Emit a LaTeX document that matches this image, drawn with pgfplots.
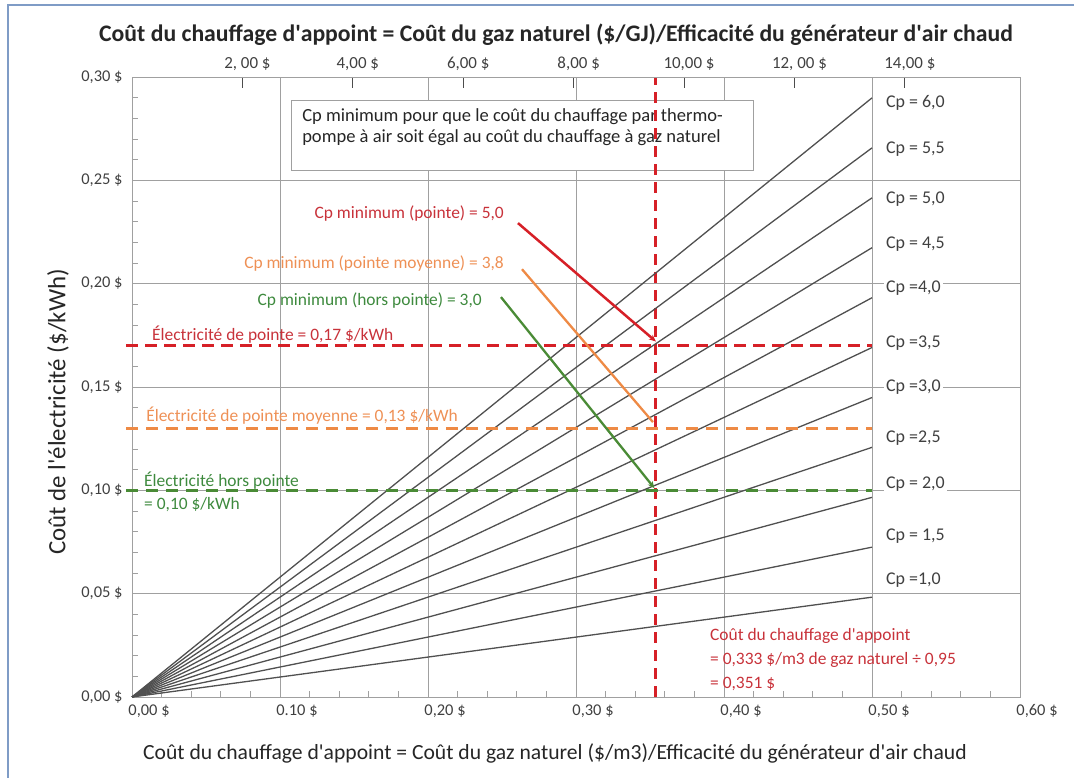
\documentclass[border=0pt]{standalone}
\usepackage{pgfplots}
\pgfplotsset{compat=1.18}
\usepackage{fontspec}
\setmainfont{Carlito}
\usetikzlibrary{arrows.meta}
\definecolor{redl}{HTML}{D62027}
\definecolor{orl}{HTML}{EE8A45}
\definecolor{grl}{HTML}{4A8B36}
\definecolor{redt}{HTML}{C8323A}
\definecolor{ort}{HTML}{EE9055}
\definecolor{grt}{HTML}{3E8A3E}
\definecolor{cpl}{HTML}{505050}
\definecolor{gridc}{HTML}{A0A0A0}
\definecolor{txt}{HTML}{404040}
\definecolor{frame}{HTML}{7F9CC6}
\newcommand{\q}{\textquotesingle}
\begin{document}
\begin{tikzpicture}[x=1bp,y=1bp]
\path[use as bounding box] (0,0) rectangle (1074,778);
\draw[frame, line width=2bp] (8,0) -- (8,773) -- (1074,773);
\node[font=\bfseries\fontsize{23.8}{26}\selectfont, text=black!85] at (556,743) {Coût du chauffage d\q appoint = Coût du gaz naturel (\$/GJ)/Efficacité du générateur d\q air chaud};
\node[font=\fontsize{21.7}{24}\selectfont, text=black!85] at (555,25) {Coût du chauffage d\q appoint = Coût du gaz naturel (\$/m3)/Efficacité du générateur d\q air chaud};
\node[font=\fontsize{25}{27}\selectfont, text=black!85, rotate=90] at (58,366) {Coût de l\q électricité (\$/kWh)};
\begin{axis}[
  at={(132bp,81bp)}, anchor=south west,
  scale only axis, width=888bp, height=620bp,
  xmin=0, xmax=0.6, ymin=0, ymax=0.3,
  clip=false,
  axis line style={gridc, line width=0.9bp},
  grid=major, major grid style={gridc, line width=0.8bp},
  xtick={0,0.1,0.2,0.3,0.4,0.5,0.6},
  xticklabels={{0,00 \$},{0.10 \$},{0,20 \$},{0,30 \$},{0,40 \$},{0,50 \$},{0,60 \$}},
  ytick={0,0.05,0.1,0.15,0.2,0.25,0.3},
  yticklabels={{0,00 \$},{0,05 \$},{0,10 \$},{0,15 \$},{0,20 \$},{0,25 \$},{0,30 \$}},
  minor xtick={0.02,0.04,0.06,0.08,0.12,0.14,0.16,0.18,0.22,0.24,0.26,0.28,0.32,0.34,0.36,0.38,0.42,0.44,0.46,0.48,0.52,0.54,0.56,0.58},
  minor ytick={0.01,0.02,0.03,0.04,0.06,0.07,0.08,0.09,0.11,0.12,0.13,0.14,0.16,0.17,0.18,0.19,0.21,0.22,0.23,0.24,0.26,0.27,0.28,0.29},
  tick pos=left, tick align=inside,
  major tick length=0pt, minor tick length=6bp,
  minor tick style={gridc, line width=0.8bp},
  x tick label style={font=\fontsize{16.5}{18}\selectfont, text=txt, xshift=17bp, yshift=-4bp},
  y tick label style={font=\fontsize{16.5}{18}\selectfont, text=txt, xshift=-6bp},
]
% text box
\fill[white] (axis cs:0.1074,0.2888) rectangle (axis cs:0.4196,0.255);
\draw[gridc, line width=0.9bp] (axis cs:0.1074,0.2888) rectangle (axis cs:0.4196,0.255);
\node[anchor=north west, inner sep=0pt, align=left, font=\fontsize{18.6}{22}\selectfont, text=black!85] at (axis cs:0.1149,0.2850) {Cp minimum pour que le coût du chauffage par thermo-\\pompe à air soit égal au coût du chauffage à gaz naturel};
% vertical red dashed
\addplot[redl, line width=3bp, dash pattern=on 11bp off 7bp] coordinates {(0.354,0) (0.354,0.3)};
% Cp lines
\addplot[cpl, line width=1.3bp] coordinates {(0,0) (0.5,0.0483)};
\addplot[cpl, line width=1.3bp] coordinates {(0,0) (0.5,0.0725)};
\addplot[cpl, line width=1.3bp] coordinates {(0,0) (0.5,0.0966)};
\addplot[cpl, line width=1.3bp] coordinates {(0,0) (0.5,0.1208)};
\addplot[cpl, line width=1.3bp] coordinates {(0,0) (0.5,0.1449)};
\addplot[cpl, line width=1.3bp] coordinates {(0,0) (0.5,0.1691)};
\addplot[cpl, line width=1.3bp] coordinates {(0,0) (0.5,0.1932)};
\addplot[cpl, line width=1.3bp] coordinates {(0,0) (0.5,0.2174)};
\addplot[cpl, line width=1.3bp] coordinates {(0,0) (0.5,0.2415)};
\addplot[cpl, line width=1.3bp] coordinates {(0,0) (0.5,0.2657)};
\addplot[cpl, line width=1.3bp] coordinates {(0,0) (0.5,0.2899)};
% horizontal dashed
\addplot[redl, line width=3bp, dash pattern=on 12bp off 7bp] coordinates {(-0.004,0.17) (0.5,0.17)};
\addplot[orl, line width=2.6bp, dash pattern=on 12bp off 8bp] coordinates {(-0.004,0.13) (0.5,0.13)};
\addplot[grl, line width=2.6bp, dash pattern=on 12bp off 8bp] coordinates {(-0.004,0.10) (0.5,0.10)};
% arrows
\addplot[redl, line width=2.5bp, -{Stealth[length=7bp,width=6bp]}] coordinates {(0.2608,0.2293) (0.354,0.172)};
\addplot[orl, line width=2.3bp] coordinates {(0.2635,0.207) (0.352,0.133)};
\addplot[grl, line width=2.3bp, -{Stealth[length=7bp,width=6bp]}] coordinates {(0.2493,0.1935) (0.353,0.101)};
% annotations
\tikzset{ann/.style={inner sep=0pt, font=\fontsize{17.5}{20}\selectfont}}
\node[ann, anchor=east, text=redt] at (axis cs:0.2514,0.2337) {Cp minimum (pointe) = 5,0};
\node[ann, anchor=east, text=ort] at (axis cs:0.2514,0.2095) {Cp minimum (pointe moyenne) = 3,8};
\node[ann, anchor=east, text=grt] at (axis cs:0.2365,0.192) {Cp minimum (hors pointe) = 3,0};
\node[ann, anchor=west, text=redt] at (axis cs:0.0135,0.1751) {Électricité de pointe = 0,17 \$/kWh};
\node[ann, anchor=west, text=ort] at (axis cs:0.0095,0.136) {Électricité de pointe moyenne = 0,13 \$/kWh};
\node[ann, anchor=west, text=grt] at (axis cs:0.0081,0.1045) {Électricité hors pointe};
\node[ann, anchor=west, text=grt] at (axis cs:0.0081,0.0930) {= 0,10 \$/kWh};
\node[ann, anchor=west, text=redt] at (axis cs:0.3905,0.0295) {Coût du chauffage d\q appoint};
\node[ann, anchor=west, text=redt] at (axis cs:0.3905,0.0179) {= 0,333 \$/m3 de gaz naturel ÷ 0,95};
\node[ann, anchor=west, text=redt] at (axis cs:0.3905,0.0065) {= 0,351 \$};
% Cp labels
\tikzset{cplab/.style={anchor=west, fill=white, inner sep=2bp, font=\fontsize{18}{20}\selectfont, text=txt}}
\node[cplab] at (axis cs:0.508,0.2874) {Cp = 6,0};
\node[cplab] at (axis cs:0.508,0.2651) {Cp = 5,5};
\node[cplab] at (axis cs:0.508,0.2409) {Cp = 5,0};
\node[cplab] at (axis cs:0.508,0.2192) {Cp = 4,5};
\node[cplab] at (axis cs:0.508,0.1979) {Cp =4,0};
\node[cplab] at (axis cs:0.508,0.1713) {Cp =3,5};
\node[cplab] at (axis cs:0.508,0.1500) {Cp =3,0};
\node[cplab] at (axis cs:0.508,0.1253) {Cp =2,5};
\node[cplab] at (axis cs:0.508,0.1030) {Cp = 2,0};
\node[cplab] at (axis cs:0.508,0.0779) {Cp = 1,5};
\node[cplab] at (axis cs:0.508,0.0566) {Cp =1,0};
\end{axis}
\begin{axis}[
  at={(132bp,81bp)}, anchor=south west,
  scale only axis, width=888bp, height=620bp,
  xmin=0, xmax=16.086, ymin=0, ymax=1,
  hide y axis, axis x line*=top,
  axis line style={gridc, line width=0.9bp},
  xtick={2,4,6,8,10,12,14},
  xticklabels={{2, 00 \$},{4,00 \$},{6,00 \$},{8,00 \$},{10,00 \$},{12, 00 \$},{14,00 \$}},
  tick align=inside, major tick length=11bp,
  major tick style={black!70, line width=1bp},
  x tick label style={font=\fontsize{17}{19}\selectfont, text=txt, xshift=5bp, yshift=3bp},
]
\end{axis}
\end{tikzpicture}
\end{document}
